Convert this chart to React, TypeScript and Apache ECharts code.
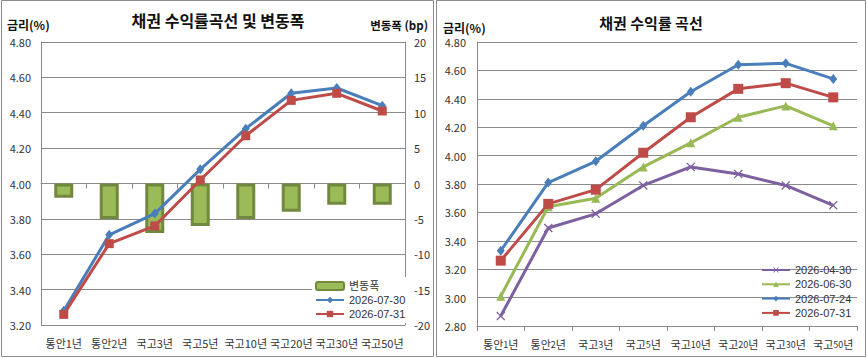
import React, { useEffect, useRef } from 'react';
import * as echarts from 'echarts';

// Tenors along the curve
const tenors = ['통안1년', '통안2년', '국고3년', '국고5년', '국고10년', '국고20년', '국고30년', '국고50년'];

// Yields (%) by date
const yield0430 = [2.87, 3.49, 3.59, 3.79, 3.92, 3.87, 3.79, 3.65];
const yield0630 = [3.01, 3.64, 3.70, 3.92, 4.09, 4.27, 4.35, 4.21];
const yield0724 = [3.33, 3.81, 3.96, 4.21, 4.45, 4.64, 4.65, 4.54];
const yield0730 = [3.28, 3.71, 3.83, 4.08, 4.31, 4.51, 4.54, 4.44];
const yield0731 = [3.26, 3.66, 3.76, 4.02, 4.27, 4.47, 4.51, 4.41];

// Day-over-day change (bp)
const changeBp = [-2, -5, -7, -6, -5, -4, -3, -3];

// Axis ranges
const leftRateRange = [3.2, 4.8, 0.2];
const changeRange = [-20, 20, 5];
const rightRateRange = [2.8, 4.8, 0.2];

const FONT = '"Noto Sans CJK KR", "Malgun Gothic", sans-serif';
const LEGEND_FONT = '"Liberation Sans", "Noto Sans CJK KR", sans-serif';
const GRID_GRAY = '#8a8a8a';
const LABEL = '#333333';

const BLUE = '#4A7EBB';
const RED = '#BE4B48';
const GREEN = '#98B954';
const PURPLE = '#7D60A0';

const X_SYMBOL = 'path://M0,1 L1,0 L5,4 L9,0 L10,1 L6,5 L10,9 L9,10 L5,6 L1,10 L0,9 L4,5 Z';

export default function App() {
  const ref = useRef<HTMLDivElement>(null);

  useEffect(() => {
    if (!ref.current) return;
    const chart = echarts.init(ref.current, undefined, { renderer: 'svg' });

    const catAxis = (gridIndex: number, rich: boolean) => ({
      type: 'category',
      gridIndex,
      data: tenors,
      boundaryGap: true,
      axisLine: { show: true, lineStyle: { color: GRID_GRAY, width: 1 } },
      axisTick: { show: true, alignWithLabel: false, length: 5, lineStyle: { color: GRID_GRAY } },
      axisLabel: rich
        ? {
            interval: 0,
            margin: 12,
            color: LABEL,
            fontSize: 11,
            fontFamily: FONT,
            formatter: (v: string) => v.replace(/(\d+)/, '{d|$1}'),
            rich: { d: { fontSize: 9, fontFamily: FONT, color: LABEL, verticalAlign: 'bottom' } },
          }
        : { interval: 0, margin: 12, color: LABEL, fontSize: 11, fontFamily: FONT },
    });

    const rateAxis = (gridIndex: number, range: number[], margin: number) => ({
      type: 'value',
      gridIndex,
      position: 'left',
      min: range[0],
      max: range[1],
      interval: range[2],
      axisLine: { show: true, lineStyle: { color: GRID_GRAY, width: 1 } },
      axisTick: { show: false },
      splitLine: { show: true, lineStyle: { color: GRID_GRAY, width: 1 } },
      axisLabel: {
        margin,
        color: LABEL,
        fontSize: 11,
        fontFamily: FONT,
        formatter: (v: number) => v.toFixed(2),
      },
    });

    const lineSeries = (
      name: string,
      data: number[],
      color: string,
      symbol: string,
      symbolSize: number | number[],
      xAxisIndex: number,
      yAxisIndex: number
    ) => ({
      name,
      type: 'line',
      xAxisIndex,
      yAxisIndex,
      data,
      symbol,
      symbolSize,
      showSymbol: true,
      lineStyle: { color, width: 3 },
      itemStyle: { color },
      emphasis: { disabled: true },
    });

    const legendText = { fontSize: 11, color: LABEL, fontFamily: LEGEND_FONT, lineHeight: 14 };

    const option: any = {
      animation: false,
      textStyle: { fontFamily: FONT },
      title: [
        {
          text: '채권 수익률곡선 및 변동폭',
          left: 218,
          top: 12,
          textAlign: 'center',
          padding: 0,
          textStyle: { fontSize: 16, fontWeight: 'bold', color: '#111', fontFamily: FONT },
        },
        {
          text: '채권 수익률 곡선',
          left: 651,
          top: 15,
          textAlign: 'center',
          padding: 0,
          textStyle: { fontSize: 15, fontWeight: 'bold', color: '#111', fontFamily: FONT },
        },
      ],
      legend: [
        {
          data: ['변동폭', '2026-07-30', '2026-07-31'],
          orient: 'vertical',
          left: 312,
          top: 277,
          padding: [2, 4, 2, 3],
          backgroundColor: '#ffffff',
          itemWidth: 28,
          itemHeight: 8,
          itemGap: 0,
          selectedMode: false,
          textStyle: legendText,
        },
        {
          data: ['2026-04-30', '2026-06-30', '2026-07-24', '2026-07-31'],
          orient: 'vertical',
          left: 761,
          top: 263,
          padding: 0,
          itemWidth: 28,
          itemHeight: 7,
          itemGap: 0.3,
          selectedMode: false,
          textStyle: legendText,
        },
      ],
      grid: [
        { left: 41, top: 42, width: 364, height: 283 },
        { left: 477, top: 42, width: 380, height: 284 },
      ],
      xAxis: [catAxis(0, false), catAxis(1, true)],
      yAxis: [
        rateAxis(0, leftRateRange, 10),
        {
          type: 'value',
          gridIndex: 0,
          position: 'right',
          min: changeRange[0],
          max: changeRange[1],
          interval: changeRange[2],
          axisLine: { show: true, lineStyle: { color: GRID_GRAY, width: 1 } },
          axisTick: { show: false },
          splitLine: { show: false },
          axisLabel: { margin: 9, color: LABEL, fontSize: 11, fontFamily: FONT },
        },
        rateAxis(1, rightRateRange, 11),
      ],
      series: [
        {
          name: '변동폭',
          type: 'bar',
          xAxisIndex: 0,
          yAxisIndex: 1,
          data: changeBp,
          barWidth: 19,
          itemStyle: { color: '#9BBB59', borderColor: '#71893F', borderWidth: 3 },
          emphasis: { disabled: true },
        },
        lineSeries('2026-07-30', yield0730, BLUE, 'diamond', [8, 10], 0, 0),
        lineSeries('2026-07-31', yield0731, RED, 'rect', 9, 0, 0),
        lineSeries('2026-04-30', yield0430, PURPLE, X_SYMBOL, 9, 1, 2),
        lineSeries('2026-06-30', yield0630, GREEN, 'triangle', 9, 1, 2),
        lineSeries('2026-07-24', yield0724, BLUE, 'diamond', [8, 10], 1, 2),
        lineSeries('2026-07-31', yield0731, RED, 'rect', 10, 1, 2),
      ],
      graphic: [
        {
          type: 'rect',
          silent: true,
          z: -10,
          shape: { x: 1.5, y: 0.5, width: 432, height: 356 },
          style: { fill: 'none', stroke: '#8c8c8c', lineWidth: 1 },
        },
        {
          type: 'rect',
          silent: true,
          z: -10,
          shape: { x: 436.5, y: 0.5, width: 429, height: 356 },
          style: { fill: 'none', stroke: '#8c8c8c', lineWidth: 1 },
        },
        {
          type: 'text',
          x: 7,
          y: 24,
          style: {
            text: '금리(%)',
            fontSize: 12,
            fontWeight: 'bold',
            fontFamily: FONT,
            fill: '#111',
            align: 'left',
            verticalAlign: 'middle',
          },
        },
        {
          type: 'text',
          x: 428,
          y: 25,
          style: {
            text: '변동폭 (bp)',
            fontSize: 11.5,
            fontWeight: 'bold',
            fontFamily: FONT,
            fill: '#111',
            align: 'right',
            verticalAlign: 'middle',
          },
        },
        {
          type: 'text',
          x: 443,
          y: 27,
          style: {
            text: '금리(%)',
            fontSize: 12,
            fontWeight: 'bold',
            fontFamily: FONT,
            fill: '#111',
            align: 'left',
            verticalAlign: 'middle',
          },
        },
      ],
    };

    chart.setOption(option);
    return () => chart.dispose();
  }, []);

  return (
    <div
      ref={ref}
      style={{ position: 'absolute', left: 0, top: 0, width: 867, height: 358, background: '#ffffff' }}
    />
  );
}
